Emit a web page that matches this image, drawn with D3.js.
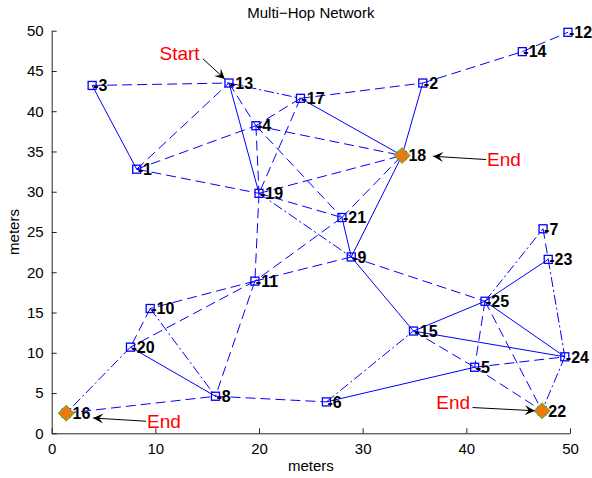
<!DOCTYPE html>
<html>
<head>
<meta charset="utf-8">
<script src="https://cdn.jsdelivr.net/npm/d3@7"></script>
<style>
  body { margin: 0; background: #fff; }
  text { font-family: "Liberation Sans", Arial, Helvetica, sans-serif; }
</style>
</head>
<body>
<div class="net-canvas"></div>
<script>
// node positions in meters
const nodeIds = [1, 2, 3, 4, 5, 6, 7, 8, 9, 10, 11, 12, 13, 14, 15, 16, 17, 18, 19, 20, 21, 22, 23, 24, 25];
const nodeX = [8.2, 35.8, 3.9, 19.7, 40.8, 26.5, 47.4, 15.8, 28.9, 9.5, 19.6, 49.8, 17.1, 45.4, 34.9, 1.4, 24.0, 33.8, 20.0, 7.6, 28.0, 47.3, 47.9, 49.5, 41.8];
const nodeY = [32.8, 43.5, 43.2, 38.2, 8.2, 3.9, 25.4, 4.6, 21.9, 15.5, 18.9, 49.8, 43.5, 47.4, 12.7, 2.5, 41.6, 34.5, 29.8, 10.7, 26.8, 2.8, 21.6, 9.5, 16.4];
const endNodes = [16, 18, 22];

// links: [from, to]
const solidLinks = [[3, 1], [13, 19], [17, 18], [2, 18], [18, 9], [21, 9], [9, 15], [20, 8], [6, 5], [15, 25], [15, 24], [25, 23], [25, 24]];
const dashedLinks = [[3, 13], [1, 13], [1, 4], [1, 19], [13, 4], [17, 4], [17, 2], [2, 14], [14, 12], [4, 18], [4, 19], [4, 21], [17, 19],
  [19, 18], [19, 21], [21, 18], [19, 11], [21, 11], [9, 11], [9, 25], [11, 10], [11, 20], [11, 8], [10, 20], [16, 8], [8, 6],
  [15, 5], [25, 5], [25, 22], [5, 24], [5, 22], [7, 23]];
const dashDotLinks = [[13, 17], [19, 9], [10, 8], [20, 16], [6, 15], [25, 7], [23, 24], [24, 22]];

const xTicks = [0, 10, 20, 30, 40, 50];
const yTicks = [0, 5, 10, 15, 20, 25, 30, 35, 40, 45, 50];

// annotations: label, text anchor point, arrow from, arrow to (meters)
const noteText = ["Start", "End", "End", "End"];
const noteAt = [[10.4, 47.25], [42.0, 34.1], [9.2, 1.5], [37.1, 3.9]];
const noteFrom = [[14.6, 46.5], [41.9, 34.0], [9.1, 1.5], [40.6, 3.2]];
const noteTo = [[16.7, 44.0], [36.8, 34.4], [4.0, 1.9], [46.6, 2.8]];

const width = 592, height = 478;
const x = d3.scaleLinear().domain([0, 50]).range([51.7, 570]);
const y = d3.scaleLinear().domain([0, 50]).range([433.3, 30.7]);

const svg = d3.select(".net-canvas").append("svg")
  .attr("width", width).attr("height", height);

const pos = id => { const i = nodeIds.indexOf(id); return [x(nodeX[i]), y(nodeY[i])]; };

// axes (MATLAB style, ticks inward, no box)
const xAxis = svg.append("g").attr("transform", `translate(0,${y(0)})`)
  .call(d3.axisBottom(x).tickValues(xTicks).tickSizeInner(-5).tickSizeOuter(0).tickPadding(10));
const yAxis = svg.append("g").attr("transform", `translate(${x(0)},0)`)
  .call(d3.axisLeft(y).tickValues(yTicks).tickSizeInner(-5).tickSizeOuter(0).tickPadding(8));
[xAxis, yAxis].forEach(g => {
  g.selectAll("path, line").attr("stroke", "#262626");
  g.selectAll("text").attr("font-size", 15).attr("fill", "#000")
    .style("font-family", '"Liberation Sans", Arial, sans-serif');
});

// links
const drawLinks = (links, dash) => svg.append("g")
  .attr("fill", "none").attr("stroke", "#0000ff").attr("stroke-width", 1)
  .attr("stroke-dasharray", dash)
  .selectAll("line").data(links).join("line")
  .attr("x1", d => pos(d[0])[0]).attr("y1", d => pos(d[0])[1])
  .attr("x2", d => pos(d[1])[0]).attr("y2", d => pos(d[1])[1]);
drawLinks(solidLinks, null);
drawLinks(dashedLinks, "10,5");
drawLinks(dashDotLinks, "10,3,2,3");

// node markers
svg.append("g").selectAll("rect").data(nodeIds).join("rect")
  .attr("x", d => pos(d)[0] - 4).attr("y", d => pos(d)[1] - 4)
  .attr("width", 8).attr("height", 8)
  .attr("fill", "none").attr("stroke", "#0000ff").attr("stroke-width", 1.3);

// labels
svg.append("g").selectAll("text").data(nodeIds).join("text")
  .attr("x", d => pos(d)[0] + 1).attr("y", d => pos(d)[1])
  .attr("dy", "0.36em")
  .attr("font-size", 16).attr("font-weight", "bold").attr("fill", "#000")
  .text(d => "-" + d);

// end diamonds
svg.append("g").selectAll("path").data(endNodes).join("path")
  .attr("d", d => { const [px, py] = pos(d); return `M${px},${py - 8}L${px + 8},${py}L${px},${py + 8}L${px - 8},${py}Z`; })
  .attr("fill", "#e87a10").attr("stroke", "#3cc03c").attr("stroke-width", 1);

// annotations
const notes = svg.append("g");
noteText.forEach((t, i) => {
  const x1 = x(noteFrom[i][0]), y1 = y(noteFrom[i][1]);
  const x2 = x(noteTo[i][0]), y2 = y(noteTo[i][1]);
  notes.append("line").attr("x1", x1).attr("y1", y1).attr("x2", x2).attr("y2", y2)
    .attr("stroke", "#000").attr("stroke-width", 1);
  const a = Math.atan2(y2 - y1, x2 - x1);
  const L = 10, W = 5, back = 6;
  const p = (dx, dy) => [x2 + dx * Math.cos(a) - dy * Math.sin(a), y2 + dx * Math.sin(a) + dy * Math.cos(a)];
  const head = [p(0, 0), p(-L, -W), p(-back, 0), p(-L, W)];
  notes.append("path").attr("d", "M" + head.map(q => q.join(",")).join("L") + "Z").attr("fill", "#000");
  notes.append("text").attr("x", x(noteAt[i][0])).attr("y", y(noteAt[i][1]))
    .attr("dy", "0.36em").attr("font-size", 19).attr("fill", "#ff0000").text(t);
});

// title and axis labels
svg.append("text").attr("x", (x(0) + x(50)) / 2).attr("y", 18)
  .attr("text-anchor", "middle").attr("font-size", 15).text("Multi\u2212Hop Network");
svg.append("text").attr("x", (x(0) + x(50)) / 2).attr("y", 471)
  .attr("text-anchor", "middle").attr("font-size", 15).text("meters");
svg.append("text").attr("transform", `translate(19,${(y(0) + y(50)) / 2}) rotate(-90)`)
  .attr("text-anchor", "middle").attr("font-size", 15).text("meters");
</script>
</body>
</html>
